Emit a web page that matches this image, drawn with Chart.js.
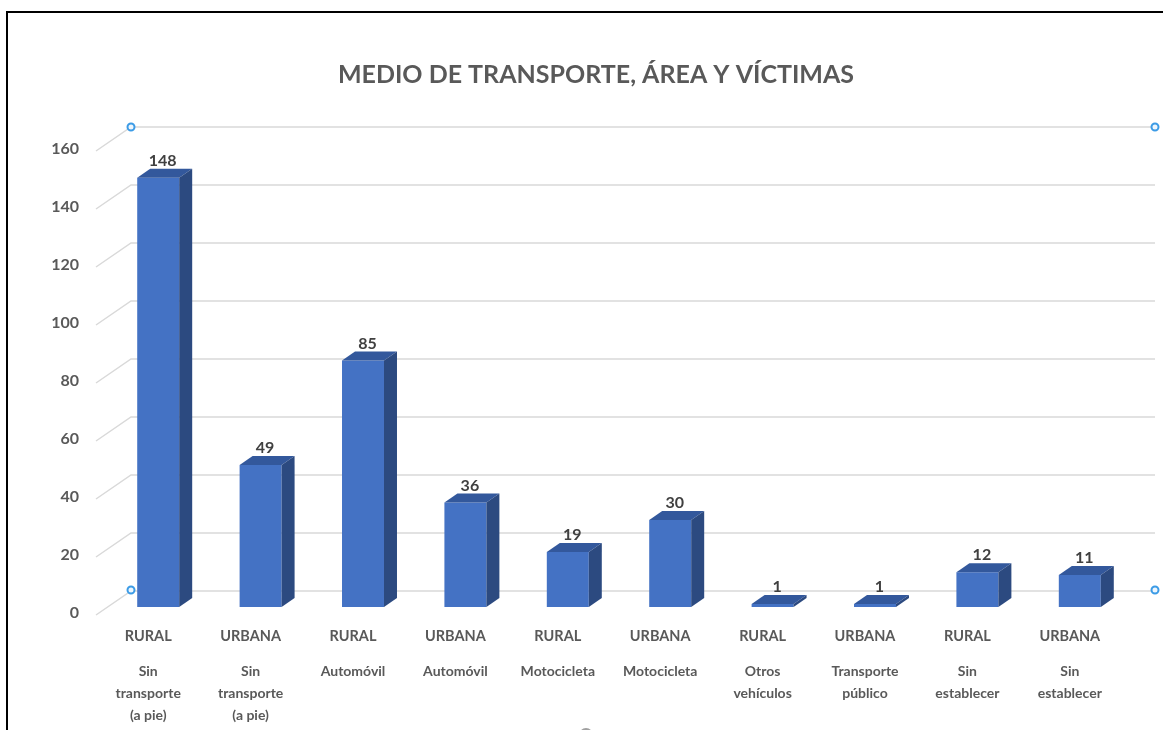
<!DOCTYPE html>
<html>
<head>
<meta charset="utf-8">
<script src="https://cdn.jsdelivr.net/npm/chart.js@4.4.0/dist/chart.umd.min.js"></script>
<style>
body{margin:0;background:#fff;overflow:hidden;}
#wrap{position:absolute;left:0;top:0;width:1163px;height:730px;}
#frame{position:absolute;left:6px;top:11px;width:1170px;height:740px;border-top:2px solid #000;border-left:2px solid #000;pointer-events:none;}
</style>
</head>
<body>
<div id="wrap"><canvas id="chart" width="1163" height="730"></canvas></div>
<div id="frame"></div>
<script>
// datos del grafico
const titulo="MEDIO DE TRANSPORTE, ÁREA Y VÍCTIMAS";
const areas=["RURAL","URBANA","RURAL","URBANA","RURAL","URBANA","RURAL","URBANA","RURAL","URBANA"];
const medios=[
["Sin","transporte","(a pie)"],
["Sin","transporte","(a pie)"],
"Automóvil",
"Automóvil",
"Motocicleta",
"Motocicleta",
["Otros","vehículos"],
["Transporte","público"],
["Sin","establecer"],
["Sin","establecer"]
];
const victimas=[148,49,85,36,19,30,1,1,12,11];
const yTicks=[0,20,40,60,80,100,120,140,160];

const gris="#595959";
const dx=13, dy=9;

// pared del fondo, lineas de division, caras 3D y titulo
const tresD={
id:"tresD",
beforeDatasetsDraw(chart){
let ctx=chart.ctx;
let ca=chart.chartArea;
let y=chart.scales.y;
ctx.save();
ctx.strokeStyle="#d9d9d9";
ctx.lineWidth=1.5;
yTicks.forEach(v=>{
let py=y.getPixelForValue(v);
ctx.beginPath();
ctx.moveTo(ca.left-11,py+8);
ctx.lineTo(ca.left+24,py-16);
ctx.lineTo(ca.right+24,py-16);
ctx.stroke();
});
ctx.restore();
},
afterDatasetsDraw(chart){
let ctx=chart.ctx;
let meta=chart.getDatasetMeta(0);
ctx.save();
meta.data.forEach((bar,i)=>{
let l=bar.x-bar.width/2, r=bar.x+bar.width/2, t=bar.y, b=bar.base;
ctx.fillStyle="#33589c";
ctx.beginPath();
ctx.moveTo(l,t);ctx.lineTo(l+dx,t-dy);ctx.lineTo(r+dx,t-dy);ctx.lineTo(r,t);ctx.closePath();
ctx.fill();
ctx.fillStyle="#2c4a80";
ctx.beginPath();
ctx.moveTo(r,t);ctx.lineTo(r+dx,t-dy);ctx.lineTo(r+dx,b-dy);ctx.lineTo(r,b);ctx.closePath();
ctx.fill();
ctx.fillStyle="#404040";
ctx.font="bold 16px Lato";
ctx.textAlign="center";
ctx.textBaseline="alphabetic";
ctx.fillText(victimas[i],bar.x+dx/2-2,t-dy-3);
});
// marcadores de seleccion
let ca=chart.chartArea, y=chart.scales.y;
let top=y.getPixelForValue(160)-16, bot=y.getPixelForValue(0)-17;
ctx.lineWidth=2;
ctx.strokeStyle="#3c9be6";
ctx.fillStyle="#eef6fd";
[[ca.left+24,top],[ca.right+24,top],[ca.left+24,bot],[ca.right+24,bot]].forEach(p=>{
ctx.beginPath();ctx.arc(p[0],p[1],3.5,0,Math.PI*2);ctx.fill();ctx.stroke();
});
ctx.strokeStyle="#a0a0a0";
ctx.beginPath();ctx.arc(586,735,6,0,Math.PI*2);ctx.stroke();
// titulo
ctx.fillStyle=gris;
ctx.font="bold 25px Lato";
ctx.textAlign="center";
ctx.textBaseline="middle";
ctx.fillText(titulo,596,75);
ctx.restore();
}
};

new Chart(document.getElementById("chart"),{
type:"bar",
data:{
labels:areas,
datasets:[{
data:victimas,
backgroundColor:"#4472c4",
barPercentage:0.82,
categoryPercentage:0.5
}]
},
options:{
responsive:false,
animation:false,
layout:{padding:{left:0,right:32,top:143,bottom:0}},
plugins:{
legend:{display:false},
tooltip:{enabled:false},
title:{display:false}
},
scales:{
y:{
min:0,max:160,
ticks:{stepSize:20,color:gris,padding:28,labelOffset:6,font:{family:"Lato",size:16,weight:"bold"}},
grid:{display:false,drawTicks:false},
border:{display:false},
afterFit(s){s.width=107;}
},
x:{
ticks:{color:gris,padding:21,labelOffset:-10,font:{family:"Lato",size:14.5,weight:"bold"}},
grid:{display:false,drawTicks:false},
border:{display:false},
afterFit(s){s.height=40;}
},
x2:{
type:"category",
position:"bottom",
labels:medios,
ticks:{color:gris,padding:14,labelOffset:-10,font:{family:"Lato",size:14,weight:"bold",lineHeight:1.55}},
grid:{display:false,drawTicks:false},
border:{display:false},
afterFit(s){s.height=83;}
}
}
},
plugins:[tresD]
});
</script>
</body>
</html>
